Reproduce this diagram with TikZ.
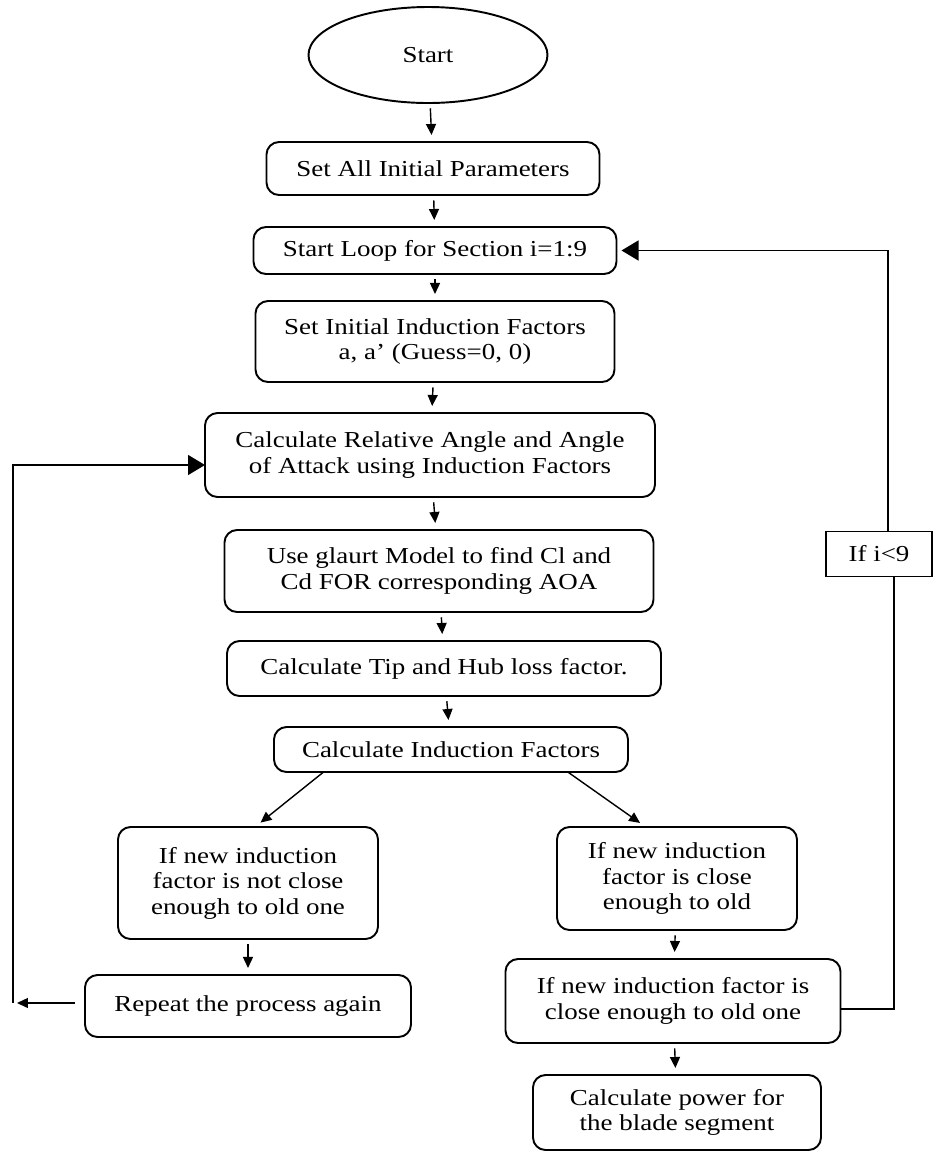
\documentclass[tikz,border=0pt]{standalone}
\usepackage{fontspec}
\setmainfont{Liberation Serif}[FakeStretch=1.18]
\usetikzlibrary{positioning,shapes.geometric,arrows.meta,calc}

\begin{document}
\begin{tikzpicture}[node distance=0.6cm,
		procbox/.style={draw, rectangle, rounded corners=0.25cm, text centered, align=center, line width=1.1pt, outer sep=0pt, font=\fontsize{13}{14.5}\selectfont},
		flow/.style={-{Triangle[length=0.22cm,width=0.2cm]}, line width=0.8pt, shorten <=3pt, shorten >=4pt},
		back/.style={-{Triangle[length=0.34cm,width=0.4cm]}, line width=0.8pt}]
		\useasboundingbox (0,0) rectangle (18.7,-23.02);

		\node (start) at (8.56,-1.1) [draw, ellipse, line width=1.1pt, outer sep=0pt, minimum width=4.78cm, minimum height=1.92cm, font=\fontsize{13}{14.5}\selectfont] {Start};
		\node (setparams) [below=0.78cm of start, xshift=0.1cm, procbox, minimum width=6.66cm, minimum height=1.06cm] {Set All Initial Parameters};
		\node (loop) [below=0.64cm of setparams, xshift=0.04cm, procbox, minimum width=7.26cm, minimum height=0.94cm] {Start Loop for Section i=1:9};
		\node (initfac) [below=0.54cm of loop, procbox, minimum width=7.18cm, minimum height=1.62cm] {Set Initial Induction Factors\\a, a' (Guess=0, 0)};
		\node (angle) [below=0.62cm of initfac, xshift=-0.1cm, procbox, minimum width=9cm, minimum height=1.68cm] {Calculate Relative Angle and Angle\\of Attack using Induction Factors};
		\node (glaurt) [below=0.66cm of angle, xshift=0.18cm, procbox, minimum width=8.58cm, minimum height=1.64cm] {Use glaurt Model to find Cl and\\Cd FOR corresponding AOA};
		\node (tiphub) [below=0.58cm of glaurt, xshift=0.1cm, procbox, minimum width=8.68cm, minimum height=1.1cm] {Calculate Tip and Hub loss factor.};
		\node (induction) [below=0.62cm of tiphub, xshift=0.14cm, procbox, minimum width=7.08cm, minimum height=0.9cm] {Calculate Induction Factors};

		\node (notclose) [below=1.1cm of induction, xshift=-4.06cm, procbox, minimum width=5.2cm, minimum height=2.24cm] {If new induction\\factor is not close\\enough to old one};
		\node (repeat) [below=0.72cm of notclose, procbox, minimum width=6.52cm, minimum height=1.24cm] {Repeat the process again};
		\node (close) [below=1.1cm of induction, xshift=4.52cm, procbox, minimum width=4.8cm, minimum height=2.06cm] {If new induction\\factor is close\\enough to old};
		\node (closeone) [below=0.58cm of close, xshift=-0.08cm, procbox, minimum width=6.7cm, minimum height=1.68cm] {If new induction factor is\\close enough to old one};
		\node (power) [below=0.64cm of closeone, xshift=0.08cm, procbox, minimum width=5.76cm, minimum height=1.5cm] {Calculate power for\\the blade segment};

		\node (ifi) at (17.58,-11.08) [draw, rectangle, line width=0.8pt, outer sep=0pt, minimum width=2.12cm, minimum height=0.9cm, font=\fontsize{13}{14.5}\selectfont] {If i<9};

		\coordinate (leftbot) at (0.26,-20.06);

		\draw [flow] (start) -- (setparams);
		\draw [flow] (setparams) -- (loop);
		\draw [flow] (loop) -- (initfac);
		\draw [flow] (initfac) -- (angle);
		\draw [flow] (angle) -- (glaurt);
		\draw [flow] (glaurt) -- (tiphub);
		\draw [flow] (tiphub) -- (induction);
		\draw [flow, shorten <=0pt] ($(induction.south west)!0.14!(induction.south east)$) -- ([xshift=0.14cm]notclose.north);
		\draw [flow, shorten <=0pt] ($(induction.south west)!0.83!(induction.south east)$) -- ($(close.north west)!0.37!(close.north east)$);
		\draw [flow] (notclose) -- (repeat);
		\draw [flow] (close) -- (closeone);
		\draw [flow] (closeone) -- (power);

		\draw [flow, shorten <=0.2cm, shorten >=0.08cm] (repeat.west |- leftbot) -- (leftbot);
		\draw [back] (leftbot) |- ([yshift=-0.2cm]angle.west);
		\draw [line width=0.8pt] ([yshift=-0.16cm]closeone.east) -| ([xshift=0.3cm]ifi.south);
		\draw [back, shorten >=0.1cm] ([xshift=0.18cm]ifi.north) |- (loop.east);
	\end{tikzpicture}
\end{document}
